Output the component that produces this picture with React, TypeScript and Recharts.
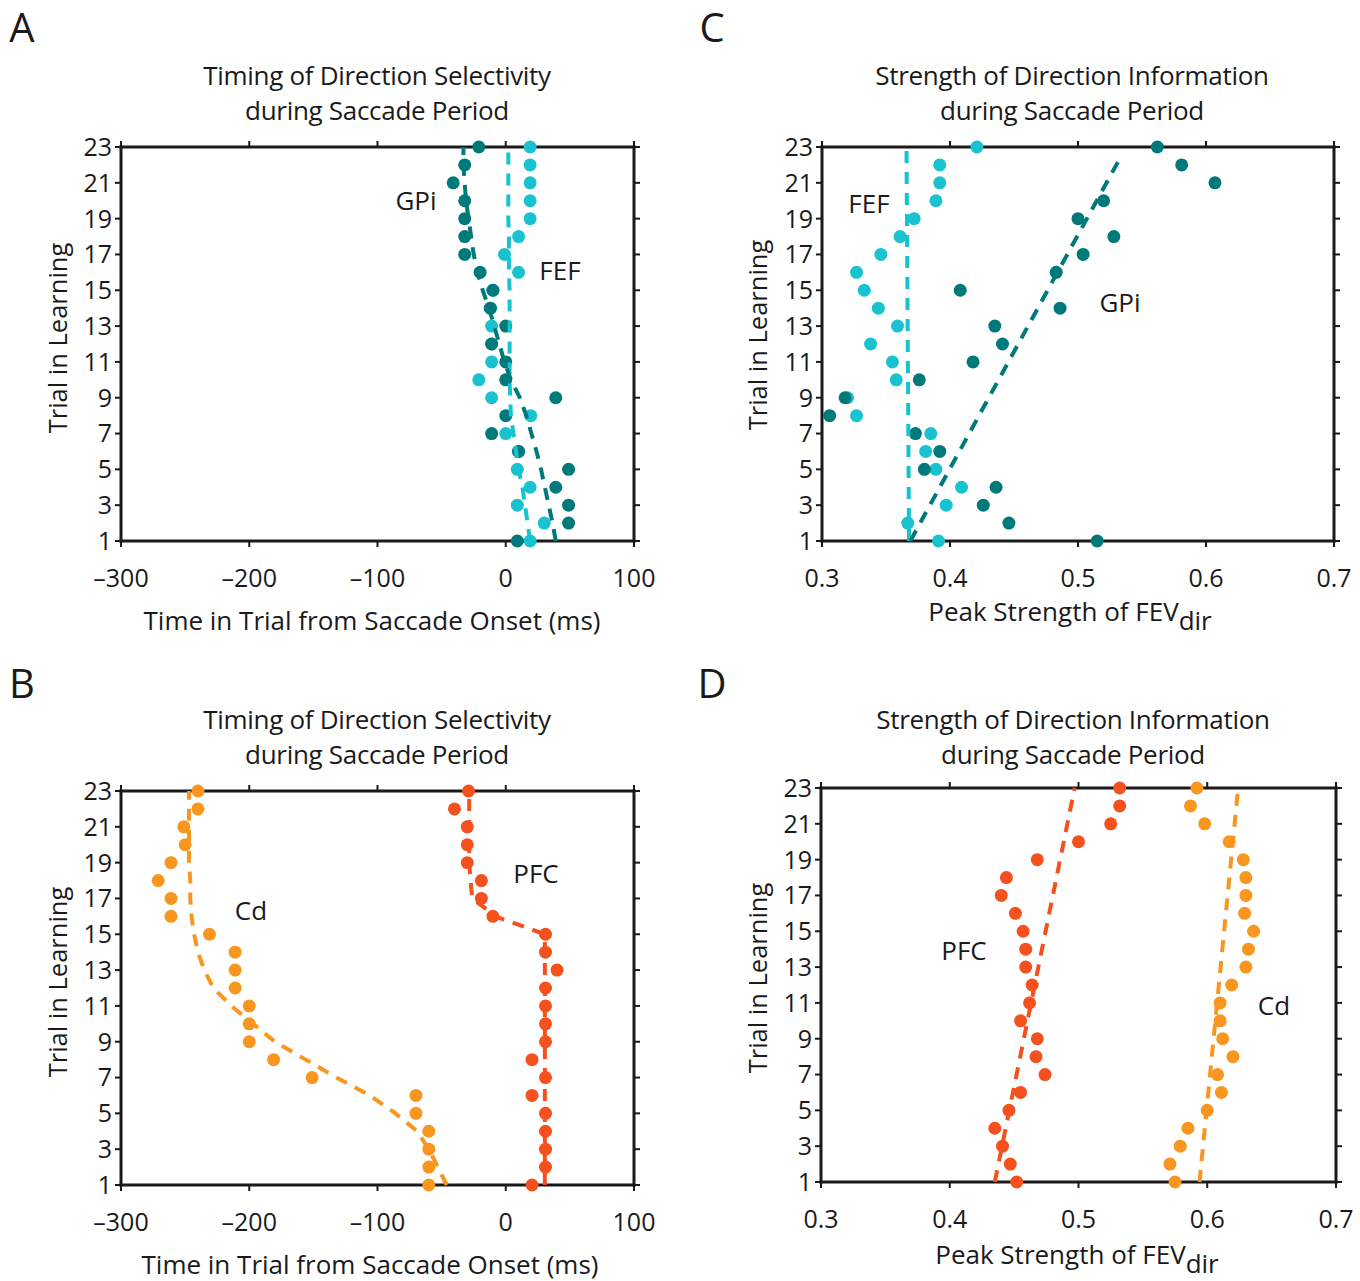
import { Scatter, ScatterChart, XAxis, YAxis } from "recharts";
import type { ReactNode } from "react";

// trial numbers 1..23 (bottom to top)
const TRIALS = [1, 2, 3, 4, 5, 6, 7, 8, 9, 10, 11, 12, 13, 14, 15, 16, 17, 18, 19, 20, 21, 22, 23];
const TRIAL_TICKS = [1, 3, 5, 7, 9, 11, 13, 15, 17, 19, 21, 23];
const TIME_TICKS = [-300, -200, -100, 0, 100];
const FEV_TICKS = [0.3, 0.4, 0.5, 0.6, 0.7];

// A: timing, GPi vs FEF (ms)
const GPI_TIMING = [9, 49, 49, 39, 49, 10, -11, 0, 39, 0, 0, -11, 0, -12, -10, -20, -32, -32, -32, -32, -41, -32, -21];
const FEF_TIMING = [19, 30, 9, 19, 9, 10, 0, 19.5, -11, -21, -11, -11, -11, -12, -10, 10, -1, 10, 19, 19, 19, 19, 19];
const GPI_TIMING_FIT = [39, 36.5, 33.5, 30.5, 27.5, 24, 20, 16, 11, 4, -1, -5, -9, -13, -18, -22, -25, -27, -29, -31, -32, -33, -33];
const FEF_TIMING_FIT = [19, 17, 15, 13, 10, 8, 6, 4, 3.5, 3, 3, 3, 3, 3, 3, 2.5, 2.5, 2.5, 2, 2, 2, 2, 2];

// C: strength, GPi vs FEF
const GPI_STRENGTH = [0.515, 0.446, 0.426, 0.436, 0.38, 0.392, 0.373, 0.306, 0.318, 0.376, 0.418, 0.441, 0.435, 0.486, 0.408, 0.483, 0.504, 0.528, 0.5, 0.52, 0.607, 0.581, 0.562];
const FEF_STRENGTH = [0.391, 0.367, 0.397, 0.409, 0.389, 0.381, 0.385, 0.327, 0.32, 0.358, 0.355, 0.338, 0.359, 0.344, 0.333, 0.327, 0.346, 0.361, 0.372, 0.389, 0.392, 0.392, 0.421];
const GPI_STRENGTH_FIT_TRIALS = [1, 22.4];
const GPI_STRENGTH_FIT = [0.369, 0.533];
const FEF_STRENGTH_FIT_TRIALS = [1, 23];
const FEF_STRENGTH_FIT = [0.368, 0.366];

// B: timing, Cd vs PFC (ms)
const CD_TIMING = [-60, -60, -60, -60, -70, -70, -151, -181, -200, -200, -200, -211, -211, -211, -231, -261, -261, -271, -261, -250, -251, -240, -240];
const PFC_TIMING = [20.5, 31, 31, 31, 31, 20.5, 31, 20.5, 31, 31, 31, 31, 40, 31, 31, -10, -19, -19, -30, -30, -30, -40, -29];
const CD_TIMING_FIT = [-46, -53, -60, -69, -86, -106, -132, -156, -180, -197, -214, -228, -235, -240, -243, -245, -246, -246, -247, -247, -247, -247, -247];
const PFC_TIMING_FIT = [30.5, 30.5, 30.5, 30.5, 30.5, 30.5, 30.5, 30.5, 30.5, 30.5, 30.5, 30.5, 30.5, 30.5, 30.5, -8, -26, -27.5, -28.5, -28.5, -28.5, -28.5, -28.5];

// D: strength, PFC vs Cd
const PFC_STRENGTH = [0.452, 0.447, 0.441, 0.435, 0.446, 0.455, 0.474, 0.467, 0.468, 0.455, 0.462, 0.464, 0.459, 0.459, 0.457, 0.451, 0.44, 0.444, 0.468, 0.5, 0.525, 0.532, 0.532];
const CD_STRENGTH = [0.575, 0.571, 0.579, 0.585, 0.6, 0.611, 0.608, 0.62, 0.612, 0.61, 0.61, 0.619, 0.63, 0.632, 0.636, 0.629, 0.63, 0.63, 0.628, 0.617, 0.598, 0.587, 0.592];
const FIT_ENDS = [1, 23];
const PFC_STRENGTH_FIT = [0.435, 0.497];
const CD_STRENGTH_FIT = [0.594, 0.624];

const DARK_TEAL = "#00797a";
const CYAN = "#18c3cf";
const ORANGE = "#f8961f";
const RED = "#f4511f";
const INK = "#1a1a1a";
const FONT = "'Open Sans', sans-serif";

type Series = { trials: number[]; values: number[]; color: string; fit?: boolean };

const pts = (trials: number[], values: number[]) => trials.map((t, i) => ({ x: values[i], y: t }));

const makeDot = (color: string) => (props: any) => <circle cx={props.cx} cy={props.cy} r={6.5} fill={color} />;
const noDot = () => <g />;

const minus = (v: number) => String(v).replace("-", "\u2013");

interface PanelProps {
  px: number;
  py: number;
  pw: number;
  ph: number;
  xDomain: [number, number];
  xTicks: number[];
  series: Series[];
}

function Panel({ px, py, pw, ph, xDomain, xTicks, series }: PanelProps) {
  const tickStyle = { fontSize: 25, fill: INK, fontFamily: FONT };
  const axisLine = { stroke: INK, strokeWidth: 3, strokeLinecap: "square" as const };
  const tickLine = { stroke: INK, strokeWidth: 2 };
  // top / right axes mirror the bottom / left ones to close the frame
  return (
    <div style={{ position: "absolute", left: px - 121, top: py - 21 }}>
      <ScatterChart width={121 + pw + 31} height={21 + ph + 80} margin={{ top: 20, right: 30, bottom: 0, left: 0 }}>
        <XAxis xAxisId="b" type="number" dataKey="x" domain={xDomain} ticks={xTicks} interval={0} height={80}
          axisLine={axisLine} tickLine={tickLine} tickSize={6} tickMargin={22} tick={tickStyle} tickFormatter={minus} />
        <XAxis xAxisId="t" orientation="top" type="number" dataKey="x" domain={xDomain} ticks={xTicks} interval={0} height={1}
          axisLine={axisLine} tickLine={tickLine} tickSize={6} tickFormatter={() => ""} />
        <YAxis yAxisId="l" type="number" dataKey="y" domain={[1, 23]} ticks={TRIAL_TICKS} interval={0} width={121}
          axisLine={axisLine} tickLine={tickLine} tickSize={6} tickMargin={3} tick={tickStyle} />
        <YAxis yAxisId="r" orientation="right" type="number" dataKey="y" domain={[1, 23]} ticks={TRIAL_TICKS} interval={0} width={1}
          axisLine={axisLine} tickLine={tickLine} tickSize={6} tickFormatter={() => ""} />
        {series.filter((s) => !s.fit).map((s, i) => (
          <Scatter key={"d" + i} xAxisId="b" yAxisId="l" data={pts(s.trials, s.values)} shape={makeDot(s.color)}
            isAnimationActive={false} />
        ))}
        {series.filter((s) => s.fit).map((s, i) => (
          <Scatter key={"f" + i} xAxisId="t" yAxisId="r" data={pts(s.trials, s.values)} shape={noDot}
            line={{ stroke: s.color, strokeWidth: 4, strokeDasharray: "12 9" }} lineJointType="linear"
            isAnimationActive={false} />
        ))}
      </ScatterChart>
    </div>
  );
}

function Txt({ x, y, size = 26, children }: { x: number; y: number; size?: number; children: ReactNode }) {
  return (
    <div style={{ position: "absolute", left: x - 300, top: y - 20, width: 600, lineHeight: "40px", textAlign: "center",
      fontSize: size, fontFamily: FONT, color: INK, whiteSpace: "nowrap" }}>
      {children}
    </div>
  );
}

function Title({ x, y, lines }: { x: number; y: number; lines: string[] }) {
  return (
    <div style={{ position: "absolute", left: x - 300, top: y - 17, width: 600, lineHeight: "35px", textAlign: "center",
      fontSize: 26, fontFamily: FONT, color: INK, letterSpacing: "-0.3px" }}>
      {lines.map((l) => <div key={l}>{l}</div>)}
    </div>
  );
}

function YLabel({ x, y }: { x: number; y: number }) {
  return (
    <div style={{ position: "absolute", left: x - 200, top: y - 20, width: 400, lineHeight: "40px", textAlign: "center",
      fontSize: 25.5, fontFamily: FONT, color: INK, transform: "rotate(-90deg)" }}>
      Trial in Learning
    </div>
  );
}

const FevLabel = () => (
  <span>Peak Strength of FEV<sub style={{ fontSize: 26, verticalAlign: "-9px", lineHeight: 0 }}>dir</sub></span>
);

export default function App() {
  const timingTitle = ["Timing of Direction Selectivity", "during Saccade Period"];
  const strengthTitle = ["Strength of Direction Information", "during Saccade Period"];
  return (
    <div style={{ position: "absolute", left: 0, top: 0, width: 1360, height: 1281, background: "#fff", overflow: "hidden" }}>
      {/* A */}
      <Panel px={121} py={147} pw={513} ph={394} xDomain={[-300, 100]} xTicks={TIME_TICKS}
        series={[
          { trials: TRIALS, values: FEF_TIMING, color: CYAN },
          { trials: TRIALS, values: GPI_TIMING, color: DARK_TEAL },
          { trials: TRIALS, values: FEF_TIMING_FIT, color: CYAN, fit: true },
          { trials: TRIALS, values: GPI_TIMING_FIT, color: DARK_TEAL, fit: true },
        ]} />
      {/* C */}
      <Panel px={822} py={147} pw={512} ph={394} xDomain={[0.3, 0.7]} xTicks={FEV_TICKS}
        series={[
          { trials: TRIALS, values: FEF_STRENGTH, color: CYAN },
          { trials: TRIALS, values: GPI_STRENGTH, color: DARK_TEAL },
          { trials: FEF_STRENGTH_FIT_TRIALS, values: FEF_STRENGTH_FIT, color: CYAN, fit: true },
          { trials: GPI_STRENGTH_FIT_TRIALS, values: GPI_STRENGTH_FIT, color: DARK_TEAL, fit: true },
        ]} />
      {/* B */}
      <Panel px={121} py={791} pw={513} ph={394} xDomain={[-300, 100]} xTicks={TIME_TICKS}
        series={[
          { trials: TRIALS, values: CD_TIMING, color: ORANGE },
          { trials: TRIALS, values: PFC_TIMING, color: RED },
          { trials: TRIALS, values: CD_TIMING_FIT, color: ORANGE, fit: true },
          { trials: TRIALS, values: PFC_TIMING_FIT, color: RED, fit: true },
        ]} />
      {/* D */}
      <Panel px={821} py={788} pw={515} ph={394} xDomain={[0.3, 0.7]} xTicks={FEV_TICKS}
        series={[
          { trials: TRIALS, values: PFC_STRENGTH, color: RED },
          { trials: TRIALS, values: CD_STRENGTH, color: ORANGE },
          { trials: FIT_ENDS, values: PFC_STRENGTH_FIT, color: RED, fit: true },
          { trials: FIT_ENDS, values: CD_STRENGTH_FIT, color: ORANGE, fit: true },
        ]} />

      <Txt x={22} y={27} size={40}>A</Txt>
      <Txt x={22} y={683} size={40}>B</Txt>
      <Txt x={712} y={27} size={40}>C</Txt>
      <Txt x={712} y={683} size={40}>D</Txt>

      <Title x={377} y={75} lines={timingTitle} />
      <Title x={1072} y={75} lines={strengthTitle} />
      <Title x={377} y={719} lines={timingTitle} />
      <Title x={1073} y={719} lines={strengthTitle} />

      <YLabel x={57} y={338} />
      <YLabel x={757} y={335} />
      <YLabel x={57} y={982} />
      <YLabel x={757} y={978} />

      <Txt x={372} y={620}>Time in Trial from Saccade Onset (ms)</Txt>
      <Txt x={370} y={1264}>Time in Trial from Saccade Onset (ms)</Txt>
      <Txt x={1070} y={611}><FevLabel /></Txt>
      <Txt x={1077} y={1254}><FevLabel /></Txt>

      <Txt x={416} y={200}>GPi</Txt>
      <Txt x={560} y={270}>FEF</Txt>
      <Txt x={869} y={203}>FEF</Txt>
      <Txt x={1120} y={302}>GPi</Txt>
      <Txt x={251} y={910}>Cd</Txt>
      <Txt x={536} y={873}>PFC</Txt>
      <Txt x={964} y={950}>PFC</Txt>
      <Txt x={1274} y={1005}>Cd</Txt>
    </div>
  );
}
